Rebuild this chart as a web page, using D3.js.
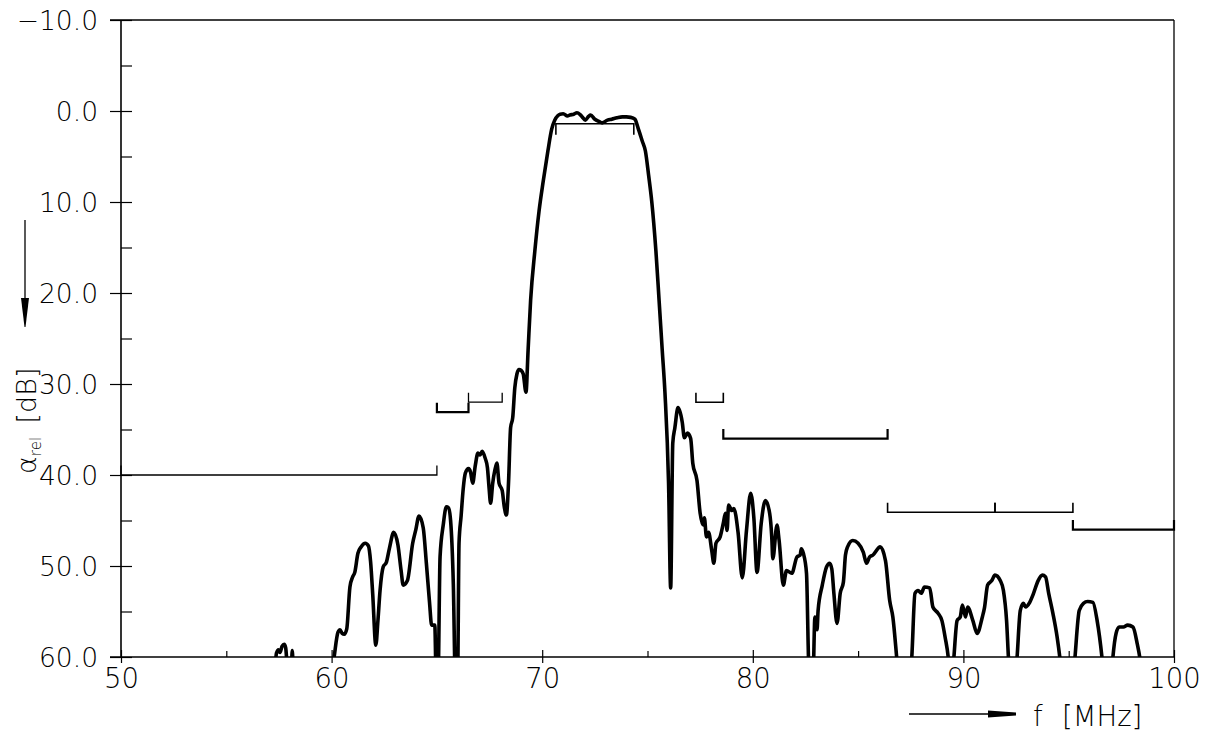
<!DOCTYPE html>
<html><head><meta charset="utf-8">
<script src="https://cdn.jsdelivr.net/npm/d3@7/dist/d3.min.js"></script>
<style>
html,body{margin:0;padding:0;background:#fff;}
svg text{font-family:"DejaVu Sans",sans-serif;font-weight:200;fill:#000;}
</style></head>
<body><svg id="chart" width="1205" height="736"></svg>
<script>
// ---- data ----
const freqMHz = [57.3,57.38,57.48,57.55,57.65,57.75,57.82,57.88,57.95,58.08,58.13,58.2,
60.0,60.12,60.3,60.4,60.5,60.6,60.72,60.87,61.0,61.1,61.25,61.4,61.6,61.75,61.85,61.95,62.1,62.2,62.3,62.45,62.6,62.75,62.95,63.15,63.3,63.4,63.6,63.85,64.0,64.15,64.35,64.5,64.65,64.75,64.9,64.97,65.05,65.15,65.3,65.45,65.55,65.65,65.78,65.88,65.98,66.05,66.15,66.25,66.35,66.5,66.6,66.7,66.82,66.95,67.05,67.15,67.3,67.4,67.48,67.55,67.65,67.75,67.85,67.95,68.1,68.2,68.3,68.4,68.5,68.6,68.7,68.8,68.9,69.0,69.1,69.23,69.33,69.45,69.65,69.85,70.05,70.27,70.45,70.6,70.75,70.85,71.0,71.2,71.3,71.5,71.65,71.8,71.9,72.05,72.2,72.3,72.5,72.7,72.85,73.1,73.3,73.55,73.8,74.0,74.2,74.4,74.55,74.75,74.9,75.05,75.2,75.4,75.55,75.7,75.83,76.0,76.1,76.2,76.3,76.45,76.65,76.75,76.9,77.05,77.15,77.35,77.5,77.65,77.7,77.8,77.9,78.05,78.15,78.25,78.45,78.6,78.7,78.78,78.85,79.0,79.1,79.3,79.5,79.7,79.9,80.05,80.2,80.4,80.6,80.8,80.9,80.95,81.15,81.25,81.45,81.6,81.85,82.1,82.25,82.3,82.4,82.55,82.65,82.72,82.85,82.95,83.05,83.1,83.3,83.5,83.65,83.75,83.85,84.0,84.15,84.3,84.4,84.5,84.75,85.0,85.25,85.4,85.55,85.7,86.05,86.3,86.5,86.65,86.85,86.95,87.45,87.55,87.7,87.85,88.0,88.15,88.4,88.55,88.8,88.98,89.13,89.3,89.38,89.45,89.55,89.7,89.85,89.95,90.1,90.2,90.45,90.65,90.9,91.0,91.15,91.35,91.5,91.75,91.9,92.05,92.15,92.25,92.45,92.55,92.7,92.85,92.95,93.15,93.3,93.55,93.75,93.9,94.05,94.25,94.45,94.6,94.7,95.2,95.3,95.5,95.7,95.9,96.15,96.35,96.6,96.7,97.0,97.1,97.25,97.4,97.6,97.8,98.05,98.25,98.4,98.5,100];
const attenDB = [62,59.6,59.2,59.5,58.8,58.6,59.0,60.6,62,62,59.3,62,
62,60,57.3,57.0,57.4,57.5,56.9,52.3,51.2,50.7,48.6,47.9,47.5,47.8,49.5,53,58.7,56,52.7,50.1,49.6,48,46.3,47.7,50.5,52.1,51.6,47.5,46,44.5,45.8,49.7,54,56.5,56.5,63,63,49.0,45.5,43.5,43.6,45,52,63,63,47.5,44.5,41.5,39.8,39.3,39.7,40.9,39,37.6,37.8,37.4,38.2,39.2,41.5,43.1,40.9,39.5,38.7,40.9,41.7,43.5,44.4,40.9,34.8,33.7,30.4,28.9,28.4,28.5,28.9,30.9,26.3,20.8,15.4,11,7.7,4.4,2.0,1.0,0.5,0.35,0.3,0.55,0.45,0.35,0.2,0.4,0.65,1.0,0.6,0.45,0.9,1.15,1.3,1.0,0.9,0.75,0.65,0.65,0.7,0.9,1.85,3.3,4.4,7,9.9,15.4,20.8,26.3,31.0,40.9,52.4,36.5,34.8,32.6,34.2,35.9,35.4,36.0,38.7,40.6,44.2,45.5,44.7,46.8,46.3,48.3,49.7,47.5,46.8,45.3,44.2,46.1,43.3,43.9,43.7,46.3,51.3,46.1,42.0,44.7,50.7,45.3,42.8,44.2,46.8,49.2,45.5,47.2,52.1,50.5,50.8,49.0,48.8,48.1,48.6,50.8,60.5,63,63,55.6,57,54.9,52.1,50.1,49.7,50.3,53,56.3,53,51.8,48.8,47.9,47.2,47.5,48.5,49.7,49.0,48.8,47.9,49.4,53.8,55.6,60.5,63,63,60,53,52.7,53,52.3,52.4,54.5,55.2,56.0,57.8,60.5,63,63,60,56,55.6,54.3,55.6,54.5,56,57.4,55.6,54.6,52.1,51.6,51.0,51.6,52.7,56,60.5,63,63,60,54.9,54.1,54.5,54,53.2,51.6,51.0,51.2,53,55.2,57.8,60.5,63,63,60,54.9,54.1,53.9,54,56,60.5,63,63,60,57.4,56.7,56.7,56.5,56.7,58.5,60.5,63,63];

// tolerance scheme: start MHz, end MHz, level dB
const specStart = [50, 65, 66.5, 70.65, 77.3, 78.6, 86.4, 91.5, 95.2];
const specEnd   = [65, 66.5, 68.1, 74.35, 78.6, 86.4, 91.5, 95.2, 100];
const specLevel = [40, 33.1, 32.0, 1.4, 32.0, 36.0, 44.1, 44.1, 46.0];

const xMajorTicks = [50, 60, 70, 80, 90, 100];
const xMinorTicks = [55, 65, 75, 85, 95];
const yMajorTicks = [-10, 0, 10, 20, 30, 40, 50, 60];
const yMinorTicks = [-5, 5, 15, 25, 35, 45, 55];

// ---- drawing ----
const svg = d3.select("#chart");
const x = d3.scaleLinear().domain([50, 100]).range([121, 1174]);
const y = d3.scaleLinear().domain([-10, 60]).range([20, 657]);
const FONT = "'DejaVu Sans', sans-serif";

const gy = svg.append("g").attr("transform", `translate(${x(50)},0)`)
  .call(d3.axisLeft(y).tickValues(yMajorTicks).tickSize(11).tickSizeOuter(0)
    .tickFormat(d => d < 0 ? "\u2212" + Math.abs(d).toFixed(1) : d.toFixed(1)));
gy.select(".domain").remove();
gy.selectAll("text").attr("font-size", 26.5).attr("x", -23).attr("dy", "0.36em")
  .style("font-family", FONT).style("font-weight", 200);
const gyi = svg.append("g").attr("transform", `translate(${x(50)},0)`)
  .call(d3.axisLeft(y).tickValues(yMajorTicks.concat(yMinorTicks)).tickSize(-11).tickSizeOuter(0).tickFormat(""));
gyi.select(".domain").remove();

const gx = svg.append("g").attr("transform", `translate(0,${y(60)})`)
  .call(d3.axisBottom(x).tickValues(xMajorTicks).tickSize(6).tickSizeOuter(0).tickFormat(d3.format("d")));
gx.select(".domain").remove();
gx.selectAll("text").attr("font-size", 27.5).attr("y", 11).attr("dy", "0.71em")
  .style("font-family", FONT).style("font-weight", 200);
const gxi = svg.append("g").attr("transform", `translate(0,${y(60)})`)
  .call(d3.axisBottom(x).tickValues(xMajorTicks).tickSize(-7).tickSizeOuter(0).tickFormat(""));
gxi.select(".domain").remove();
const gxm = svg.append("g").attr("transform", `translate(0,${y(60)})`)
  .call(d3.axisBottom(x).tickValues(xMinorTicks).tickSize(-6).tickSizeOuter(0).tickFormat(""));
gxm.select(".domain").remove();
svg.selectAll(".tick line").attr("stroke", "#000").attr("stroke-width", 1.2);

// frame
const frame = svg.append("g").attr("stroke", "#000").attr("stroke-width", 1.6).attr("fill", "none");
frame.append("line").attr("x1", x(50)).attr("x2", x(50)).attr("y1", y(-10)).attr("y2", y(60));
frame.append("line").attr("x1", x(50) - 11).attr("x2", x(100)).attr("y1", y(-10)).attr("y2", y(-10));
frame.append("line").attr("x1", x(50) - 11).attr("x2", x(100)).attr("y1", y(60)).attr("y2", y(60));
frame.append("line").attr("x1", x(100)).attr("x2", x(100)).attr("y1", y(-10)).attr("y2", y(60)).attr("stroke-width", 1.3);

// tolerance scheme
const spec = svg.append("g").attr("stroke", "#000").attr("fill", "none");
const specWidths = [1.3, 2.2, 1.3, 1.6, 1.6, 2.2, 1.6, 1.6, 2.2];
specStart.forEach((s, i) => {
  const e = specEnd[i], L = specLevel[i];
  const tick = (i === 3) ? 1.2 : -1.05;
  const p = d3.path();
  p.moveTo(x(s), y(L + tick)); p.lineTo(x(s), y(L)); p.lineTo(x(e), y(L)); p.lineTo(x(e), y(L + tick));
  spec.append("path").attr("d", p.toString()).attr("stroke-width", specWidths[i]).attr("stroke-linejoin", "miter");
});

// curve
svg.append("defs").append("clipPath").attr("id", "plotclip")
  .append("rect").attr("x", x(50)).attr("y", y(-10)).attr("width", x(100) - x(50)).attr("height", y(60) - y(-10));
const pts = freqMHz.map((f, i) => [f, attenDB[i]]);
const line = d3.line().x(d => x(d[0])).y(d => y(d[1])).curve(d3.curveMonotoneX);
svg.append("path").attr("d", line(pts)).attr("clip-path", "url(#plotclip)")
  .attr("fill", "none").attr("stroke", "#000").attr("stroke-width", 3.6).attr("stroke-linejoin", "round");

// y axis title with arrow
const ya = svg.append("g");
ya.append("line").attr("x1", 25).attr("x2", 25).attr("y1", 220).attr("y2", 305).attr("stroke", "#000").attr("stroke-width", 1.3);
ya.append("path").attr("d", "M21,298 L29,298 L25.5,327 L24.5,327 Z").attr("fill", "#000");
const yt = ya.append("text").attr("transform", "translate(36,474) rotate(-90)").attr("font-size", 27);
yt.append("tspan").text("\u03B1");
yt.append("tspan").text("rel").attr("font-size", 15).attr("dy", 5);
yt.append("tspan").text("\u2002[dB]").attr("dy", -5);

// x axis title with arrow
const xa = svg.append("g");
xa.append("line").attr("x1", 909).attr("x2", 995).attr("y1", 714).attr("y2", 714).attr("stroke", "#000").attr("stroke-width", 1.3);
xa.append("path").attr("d", "M988,710.5 L1016,712.5 L1016,715.5 L988,717.5 Z").attr("fill", "#000");
const xt = xa.append("text").attr("y", 726).attr("font-size", 27.5);
xt.append("tspan").attr("x", 1033).text("f");
xt.append("tspan").attr("x", 1062).text("[MHz]");
</script></body></html>
